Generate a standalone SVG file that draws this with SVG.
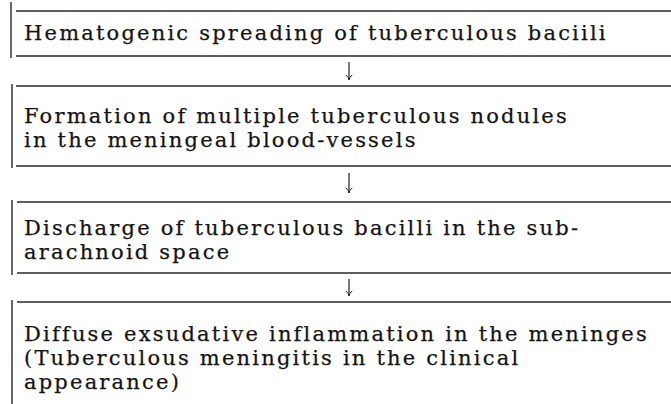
<svg xmlns="http://www.w3.org/2000/svg" width="671" height="404" viewBox="0 0 671 404">
<defs>
<style>
.bx{fill:none;stroke:#2a2a2a;stroke-width:1.4}
.t{font-family:"DejaVu Serif","Liberation Serif",serif;font-size:21px;letter-spacing:2.2px;fill:#141414;stroke:#141414;stroke-width:0.25}
.c{fill:none;stroke:#222;stroke-width:1.2}
</style>
<marker id="ah" viewBox="0 0 10 10" refX="9.5" refY="5" markerWidth="8" markerHeight="8" markerUnits="userSpaceOnUse" orient="auto">
<path d="M3,1 Q6,4.5 9.5,5 Q6,5.5 3,9" fill="none" stroke="#222" stroke-width="1.2"/>
</marker>
</defs>
<rect width="671" height="404" fill="#fff"/>
<g id="node1">
<path class="bx" d="M11,2V58M16,11H671M16,56H671"/>
<text class="t" x="24" y="40">Hematogenic spreading of tuberculous baciili</text>
</g>
<g id="node2">
<path class="bx" d="M12,84V168M16,86H671M16,166H671"/>
<text class="t" x="24" y="123">Formation of multiple tuberculous nodules</text>
<text class="t" x="24" y="147">in the meningeal blood-vessels</text>
</g>
<g id="node3">
<path class="bx" d="M12,200V275M17,202H671M17,273H671"/>
<text class="t" x="24" y="235">Discharge of tuberculous bacilli in the sub-</text>
<text class="t" x="24" y="259">arachnoid space</text>
</g>
<g id="node4">
<path class="bx" d="M12,300V404M17,302H671"/>
<text class="t" x="24" y="341">Diffuse exsudative inflammation in the meninges</text>
<text class="t" x="24" y="365">(Tuberculous meningitis in the clinical</text>
<text class="t" x="24" y="389">appearance)</text>
</g>
<g id="connectors">
<line class="c" x1="349" y1="62" x2="349" y2="80" marker-end="url(#ah)"/>
<line class="c" x1="349" y1="173" x2="349" y2="193" marker-end="url(#ah)"/>
<line class="c" x1="349" y1="279" x2="349" y2="296" marker-end="url(#ah)"/>
</g>
</svg>
